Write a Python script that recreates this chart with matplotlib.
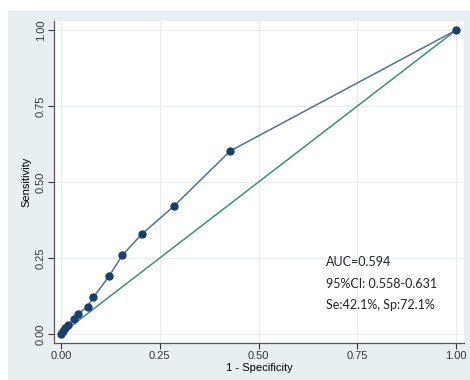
import matplotlib
matplotlib.use('Agg')
import matplotlib.pyplot as plt

# ROC points
fpr = [0.0, 0.005, 0.011, 0.017, 0.033, 0.043, 0.067, 0.082, 0.121, 0.155, 0.204, 0.286, 0.428, 1.0]
tpr = [0.0, 0.010, 0.019, 0.030, 0.048, 0.066, 0.090, 0.121, 0.189, 0.259, 0.328, 0.421, 0.602, 1.0]
ref_x = [0, 1]
ref_y = [0, 1]
ticks = [0.0, 0.25, 0.5, 0.75, 1.0]
tick_labels = ['0.00', '0.25', '0.50', '0.75', '1.00']
note = ['AUC=0.594', '95%CI: 0.558-0.631', 'Se:42.1%, Sp:72.1%']

plt.rcParams['font.family'] = ['Liberation Sans', 'DejaVu Sans']

fig = plt.figure(figsize=(4.7, 3.8), dpi=100)
# outer stata-like panel, drawn as an empty axes behind the plot
bg = fig.add_axes([8/470, 0, 1 - 8/470, 1 - 11/380])
bg.set_facecolor('#e8eff3')
bg.set_xticks([])
bg.set_yticks([])
for s in bg.spines.values():
    s.set_visible(False)

ax = fig.add_axes([54/470, 1 - 343/380, (464-54)/470, (343-21)/380])
ax.set_facecolor('white')

ax.plot(ref_x, ref_y, color='#3f8f78', lw=1.1, zorder=2)
ax.plot(fpr, tpr, '-o', color='#52708f', lw=1.1, ms=5, mfc='#1a3f6a', mec='#1a3f6a', zorder=3)

ax.set_xlim(-0.018, 1.020)
ax.set_ylim(-0.030, 1.030)
ax.set_xticks(ticks)
ax.set_xticklabels(tick_labels, fontsize=8)
ax.set_yticks(ticks)
ax.set_yticklabels(tick_labels, fontsize=8, rotation=90, va='center')
ax.grid(True, color='#e6ecef', lw=0.8)
ax.set_axisbelow(True)
for s in ['top', 'right']:
    ax.spines[s].set_visible(False)
for s in ['left', 'bottom']:
    ax.spines[s].set_color('#555555')
    ax.spines[s].set_linewidth(0.9)
ax.tick_params(colors='#333333', length=4, width=0.8, pad=2)
ax.set_xlabel('1 - Specificity', fontsize=8, labelpad=1)
ax.set_ylabel('Sensitivity', fontsize=8, labelpad=3)

for i, t in enumerate(note):
    ax.text(0.67, 0.235 - i * 0.07, t, fontsize=9, family=['Lato', 'DejaVu Sans'],
            color='#222222', va='center', ha='left')

fig.savefig('out.png', dpi=100)
